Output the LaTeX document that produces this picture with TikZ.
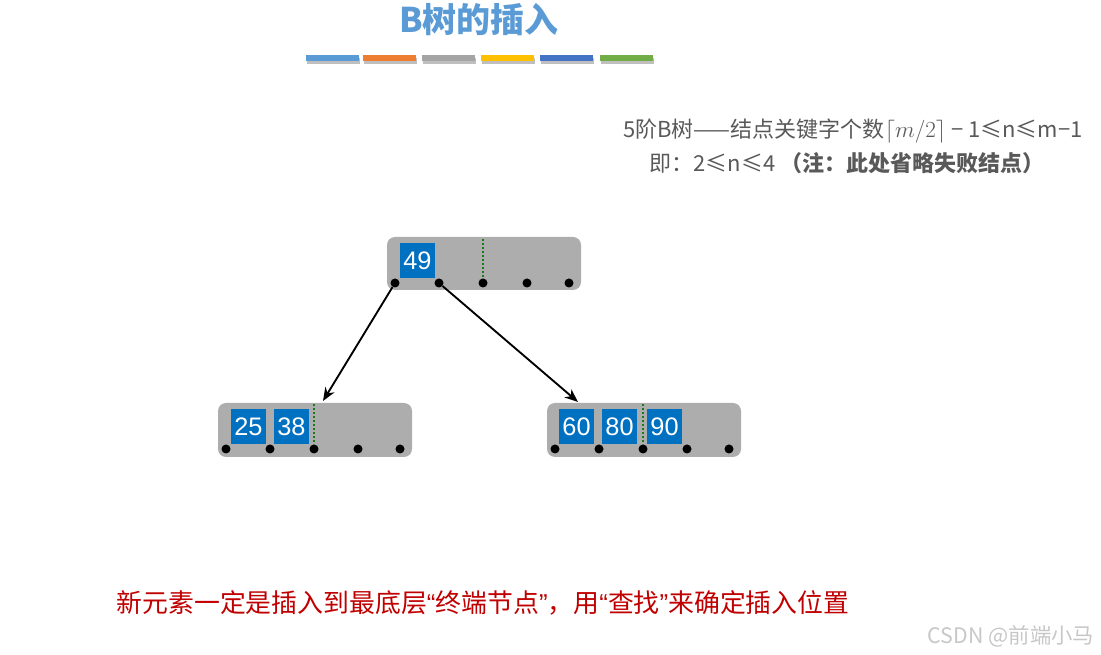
\documentclass[tikz,border=0pt]{standalone}
\usepackage{fontspec}
\setmainfont{Noto Sans CJK SC}
\newfontfamily\lat{Liberation Sans}
\usetikzlibrary{arrows.meta}
\definecolor{titleblue}{HTML}{5B9BD5}
\definecolor{cA}{HTML}{5B9BD5}
\definecolor{cB}{HTML}{ED7D31}
\definecolor{cC}{HTML}{A5A5A5}
\definecolor{cD}{HTML}{FFC000}
\definecolor{cE}{HTML}{4472C4}
\definecolor{cF}{HTML}{70AD47}
\definecolor{nodegray}{HTML}{ADADAD}
\definecolor{keyblue}{HTML}{0070C0}
\definecolor{txtgray}{HTML}{595959}
\definecolor{redtxt}{HTML}{C00000}
\definecolor{dotgreen}{HTML}{1A7A1A}
\tikzset{
  bnode/.style={fill=nodegray, rounded corners=6pt, draw=none},
  keybox/.style={fill=keyblue, text=white, minimum width=35*0.75pt, minimum height=35*0.75pt, inner sep=0pt, font=\lat\fontsize{19}{21}\selectfont},
  ptr/.style={circle, fill=black, inner sep=0pt, minimum size=9*0.75pt},
  split/.style={dotgreen, line width=2.2pt, dash pattern=on 1.6pt off 1.4pt},
  arr/.style={-{Stealth[length=10pt,width=8pt]}, line width=1.4pt},
  bar/.style={line width=6*0.75pt},
}
\begin{document}
\begin{tikzpicture}[x=0.75pt,y=-0.75pt]
\useasboundingbox (0,0) rectangle (1101,655);
% title
\node[text=titleblue, font=\fontsize{25.5}{28}\selectfont\bfseries] (title) at (479,20) {B树的插入};
% bars
\foreach \x/\c in {306/cA,363/cB,422/cC,481/cD,540/cE,600/cF}{
  \draw[bar, black!25] (\x+1,61) -- ++(53,0);
  \draw[bar, \c] (\x,58.5) -- ++(53,0);
}
% info text
\node[text=txtgray, font=\fontsize{16.5}{19}\selectfont] (info1) at (853,131) {5阶B树——结点关键字个数$\lceil m/2\rceil$ − 1≤n≤m−1};
\node[text=txtgray, font=\fontsize{16.5}{19}\selectfont] (info2) at (847,163) {即：2≤n≤4 \textbf{（注：此处省略失败结点）}};
% root
\fill[bnode] (387,237) rectangle (581,290);
\node[keybox] (k49) at (417.5,260.5) {49};
\draw[split] (483,239) -- (483,280);
\foreach \i/\x in {1/395,2/439,3/483,4/527,5/569}{ \node[ptr] (r\i) at (\x,283) {}; }
% left child
\fill[bnode] (218,403) rectangle (412,457);
\node[keybox] (k25) at (248.5,426.5) {25};
\node[keybox] (k38) at (291.5,426.5) {38};
\draw[split] (314,404) -- (314,444);
\foreach \i/\x in {1/226,2/270,3/314,4/358,5/400}{ \node[ptr] (l\i) at (\x,449) {}; }
% right child
\fill[bnode] (547,403) rectangle (741,457);
\node[keybox] (k60) at (576.5,426.5) {60};
\node[keybox] (k80) at (619.5,426.5) {80};
\node[keybox] (k90) at (664.5,426.5) {90};
\draw[split] (643,404) -- (643,444);
\foreach \i/\x in {1/555,2/599,3/643,4/687,5/729}{ \node[ptr] (g\i) at (\x,449) {}; }
% arrows
\coordinate (lt) at (323,401);
\coordinate (rt) at (578,402);
\draw[arr] (r1) -- (lt);
\draw[arr] (r2) -- (rt);
% bottom text
\node[text=redtxt, font=\fontsize{19.4}{22}\selectfont] (note) at (483,603) {新元素一定是插入到最底层{\lat“}终端节点{\lat”}，用{\lat“}查找{\lat”}来确定插入位置};
% watermark
\node[text=black!22, font=\fontsize{16}{18}\selectfont] (wm) at (1011,636) {CSDN @前端小马};
\end{tikzpicture}
\end{document}
